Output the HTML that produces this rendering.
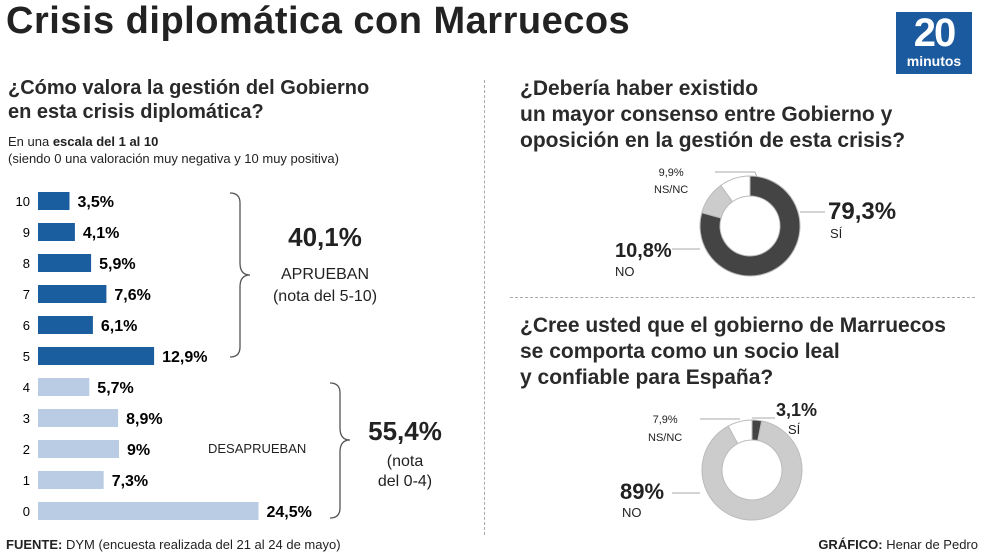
<!DOCTYPE html>
<html><head><meta charset="utf-8"><style>
body{margin:0;width:990px;height:556px;background:#fff;font-family:"Liberation Sans",sans-serif;color:#222;position:relative;overflow:hidden}
.a{position:absolute;margin:0}
.q{font-weight:bold;color:#2a2a2a}
</style></head><body>
<div class="a" style="left:6px;top:0px;font-size:38px;font-weight:bold;letter-spacing:0.5px">Crisis diplomática con Marruecos</div>
<div class="a" style="left:896px;top:12px;width:76px;height:62px;background:#1c5aa0;color:#fff;text-align:center">
<div style="font-size:40px;font-weight:bold;line-height:42px;letter-spacing:-2px">20</div><div style="font-size:14px;font-weight:bold;line-height:14px">minutos</div></div>
<div class="a q" style="left:8px;top:76px;font-size:20px;line-height:24px">¿Cómo valora la gestión del Gobierno<br>en esta crisis diplomática?</div>
<div class="a" style="left:8px;top:133px;font-size:13px;line-height:17px">En una <b>escala del 1 al 10</b><br>(siendo 0 una valoración muy negativa y 10 muy positiva)</div>
<div class="a" style="left:484px;top:80px;height:455px;border-left:1px dashed #aaa"></div>
<div class="a" style="left:510px;top:297px;width:465px;border-top:1px dashed #aaa"></div>
<svg class="a" style="left:0;top:0" width="990" height="556" id="s">
<path d="M230 193 q10 0 10 10 v60 q0 12 10 12 q-10 0 -10 12 v60 q0 10 -10 10" fill="none" stroke="#555" stroke-width="1.3"/>
<path d="M330 383 q10 0 10 10 v35 q0 12 10 12 q-10 0 -10 12 v56 q0 10 -10 10" fill="none" stroke="#555" stroke-width="1.3"/>
<line x1="715" y1="172" x2="755" y2="172" stroke="#aaa"/><line x1="755" y1="172" x2="758" y2="180" stroke="#aaa"/>
<line x1="800" y1="212" x2="825" y2="212" stroke="#aaa"/>
<line x1="672" y1="249" x2="700" y2="249" stroke="#aaa"/>
<line x1="700" y1="419" x2="740" y2="419" stroke="#aaa"/><line x1="752" y1="418" x2="775" y2="418" stroke="#aaa"/>
<line x1="672" y1="493" x2="700" y2="493" stroke="#aaa"/>
</svg>
<div class="a" style="left:250px;top:222px;width:150px;text-align:center;font-size:26px;font-weight:bold">40,1%</div>
<div class="a" style="left:250px;top:264px;width:150px;text-align:center;font-size:16px;line-height:22px">APRUEBAN<br>(nota del 5-10)</div>
<div class="a" style="left:208px;top:441px;font-size:13px">DESAPRUEBAN</div>
<div class="a" style="left:345px;top:416px;width:120px;text-align:center;font-size:26px;font-weight:bold">55,4%</div>
<div class="a" style="left:345px;top:452px;width:120px;text-align:center;font-size:16px;line-height:20px">(nota<br>del 0-4)</div>
<div class="a q" style="left:520px;top:76px;font-size:21px;line-height:26px">¿Debería haber existido<br>un mayor consenso entre Gobierno y<br>oposición en la gestión de esta crisis?</div>
<div class="a q" style="left:520px;top:313px;font-size:21px;line-height:26px">¿Cree usted que el gobierno de Marruecos<br>se comporta como un socio leal<br>y confiable para España?</div>
<div class="a" style="left:654px;top:165px;font-size:11px;line-height:17px;text-align:center">9,9%<br>NS/NC</div>
<div class="a" style="left:828px;top:198px;font-size:24px;font-weight:bold">79,3%</div>
<div class="a" style="left:830px;top:226px;font-size:13px">SÍ</div>
<div class="a" style="left:615px;top:240px;font-size:20px;font-weight:bold">10,8%</div>
<div class="a" style="left:615px;top:264px;font-size:13px">NO</div>
<div class="a" style="left:648px;top:411px;font-size:11px;line-height:18px;text-align:center">7,9%<br>NS/NC</div>
<div class="a" style="left:776px;top:400px;font-size:18px;font-weight:bold">3,1%</div>
<div class="a" style="left:788px;top:422px;font-size:13px">SÍ</div>
<div class="a" style="left:620px;top:479px;font-size:22px;font-weight:bold">89%</div>
<div class="a" style="left:622px;top:505px;font-size:13px">NO</div>
<div class="a" style="left:6px;top:537px;font-size:13px"><b>FUENTE:</b> DYM (encuesta realizada del 21 al 24 de mayo)</div>
<div class="a" style="right:12px;top:537px;font-size:13px"><b>GRÁFICO:</b> Henar de Pedro</div>
<script>
const categories=["10","9","8","7","6","5","4","3","2","1","0"];
const values=[3.5,4.1,5.9,7.6,6.1,12.9,5.7,8.9,9,7.3,24.5];
const valueLabels=["3,5%","4,1%","5,9%","7,6%","6,1%","12,9%","5,7%","8,9%","9%","7,3%","24,5%"];
const donut1Values=[79.3,10.8,9.9];
const donut2Values=[3.1,89,7.9];
const NS="http://www.w3.org/2000/svg";
const svg=document.getElementById('s');
const x0=38,pxPer=9.0,y0=201,step=31;
const xs=v=>v*pxPer, ys=i=>y0+i*step;
categories.forEach((c,i)=>{
  const r=document.createElementNS(NS,'rect');
  r.setAttribute('x',x0);r.setAttribute('y',ys(i)-9);r.setAttribute('width',xs(values[i]));r.setAttribute('height',18);
  r.setAttribute('fill',+c>=5?'#1a5e9f':'#b9cce4');
  
  
  svg.appendChild(r);
  const t=document.createElementNS(NS,'text');
  t.setAttribute('x',30);t.setAttribute('y',ys(i)+5);t.setAttribute('text-anchor','end');t.setAttribute('font-size','13');t.textContent=c;
  
  
  svg.appendChild(t);
  const v=document.createElementNS(NS,'text');
  v.setAttribute('x',x0+xs(values[i])+8);v.setAttribute('y',ys(i)+6);v.setAttribute('font-size','16');v.setAttribute('font-weight','bold');v.textContent=valueLabels[i];
  
  
  svg.appendChild(v);
});
function donut(cx,cy,vals,colors,name){
  const R=50,r=30;let a=0;const tot=vals.reduce((s,v)=>s+v,0);
  vals.forEach((v,i)=>{
    const a1=a+v/tot*2*Math.PI;
    const p=(ang,rad)=>[cx+rad*Math.sin(ang),cy-rad*Math.cos(ang)];
    const lg=(a1-a)>Math.PI?1:0;
    const [x1,y1]=p(a,R),[x2,y2]=p(a1,R),[x3,y3]=p(a1,r),[x4,y4]=p(a,r);
    const path=document.createElementNS(NS,'path');
    path.setAttribute('d',`M${x1} ${y1}A${R} ${R} 0 ${lg} 1 ${x2} ${y2}L${x3} ${y3}A${r} ${r} 0 ${lg} 0 ${x4} ${y4}Z`);
    path.setAttribute('fill',colors[i]);path.setAttribute('stroke','#bbb');path.setAttribute('stroke-width','1');
    
    
    svg.appendChild(path);a=a1;
  });
}
donut(750,226,donut1Values,['#444444','#cccccc','#ffffff'],'donut-consenso');
donut(752,470,donut2Values,['#444444','#cccccc','#ffffff'],'donut-socio');
</script>
</body></html>
